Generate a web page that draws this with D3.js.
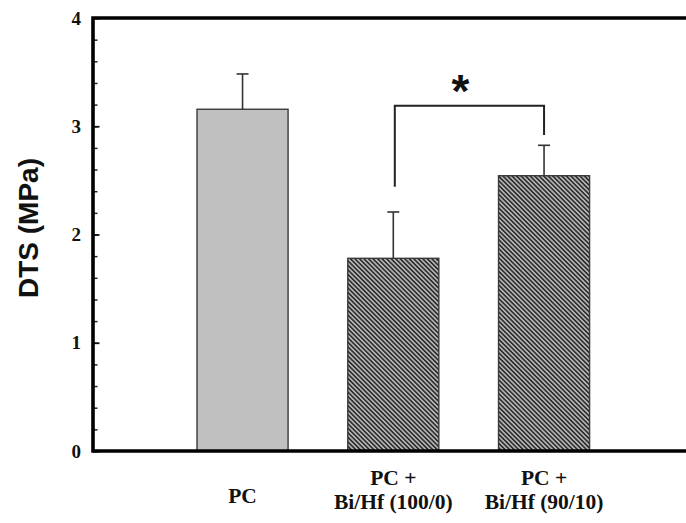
<!DOCTYPE html>
<html>
<head>
<meta charset="utf-8">
<script src="https://cdn.jsdelivr.net/npm/d3@7"></script>
<style>
  html, body { margin: 0; padding: 0; background: #fff; }
  svg { display: block; }
</style>
</head>
<body>
<svg id="chart" width="686" height="523"></svg>
<script>
// ---- data ----
const categories = ["PC", "PC + Bi/Hf (100/0)", "PC + Bi/Hf (90/10)"];
const categoryLines = [["PC"], ["PC +", "Bi/Hf (100/0)"], ["PC +", "Bi/Hf (90/10)"]];
const dtsMean = [3.157, 1.78, 2.543];
const dtsSD = [0.326, 0.428, 0.281];
const yTicks = [0, 1, 2, 3, 4];
const yMinorTicks = d3.range(0, 4.001, 0.2);
const yTitle = "DTS (MPa)";
const bracketPair = [1, 2];
const bracketLevels = [2.44, 3.19, 2.92]; // left end, top, right end
const sigLabel = "*";

// ---- layout ----
const svg = d3.select("#chart");
const plotLeft = 93, plotRight = 686, plotTop = 18, plotBottom = 451;

const x = d3.scaleBand().domain(categories).range([93, 693.6])
  .paddingInner(0.396).paddingOuter(0.69);
const y = d3.scaleLinear().domain([0, 4]).range([plotBottom, plotTop]);

// hatch pattern
const defs = svg.append("defs");
const pat = defs.append("pattern").attr("id", "hatch")
  .attr("patternUnits", "userSpaceOnUse")
  .attr("width", 3.2).attr("height", 3.2)
  .attr("patternTransform", "rotate(-45)");
pat.append("rect").attr("width", 3.2).attr("height", 3.2).attr("fill", "#b4b4b4");
pat.append("rect").attr("width", 1.6).attr("height", 3.2).attr("fill", "#2e2e2e");

const fills = ["#c0c0c0", "url(#hatch)", "url(#hatch)"];

// bars
svg.append("g").selectAll("rect").data(categories).join("rect")
  .attr("x", d => x(d))
  .attr("y", (d, i) => y(dtsMean[i]))
  .attr("width", x.bandwidth())
  .attr("height", (d, i) => y(0) - y(dtsMean[i]))
  .attr("fill", (d, i) => fills[i])
  .attr("stroke", "#3a3a3a")
  .attr("stroke-width", 1.4);

// error bars (upper only)
const eg = svg.append("g").attr("stroke", "#333").attr("stroke-width", 1.6);
categories.forEach((c, i) => {
  const cx = x(c) + x.bandwidth() / 2;
  eg.append("line").attr("x1", cx).attr("x2", cx)
    .attr("y1", y(dtsMean[i])).attr("y2", y(dtsMean[i] + dtsSD[i]));
  eg.append("line").attr("x1", cx - 6).attr("x2", cx + 6)
    .attr("y1", y(dtsMean[i] + dtsSD[i])).attr("y2", y(dtsMean[i] + dtsSD[i]));
});

// significance bracket
const bx1 = x(categories[bracketPair[0]]) + x.bandwidth() / 2 + 1.5;
const bx2 = x(categories[bracketPair[1]]) + x.bandwidth() / 2;
svg.append("path")
  .attr("d", `M${bx1},${y(bracketLevels[0])}V${y(bracketLevels[1])}H${bx2}V${y(bracketLevels[2])}`)
  .attr("fill", "none").attr("stroke", "#222").attr("stroke-width", 2);
svg.append("text")
  .attr("x", (bx1 + bx2) / 2 - 9)
  .attr("y", y(bracketLevels[1]) + 1)
  .attr("text-anchor", "middle")
  .attr("font-family", "Liberation Sans, Arial, sans-serif")
  .attr("font-weight", "bold")
  .attr("font-size", 46)
  .attr("fill", "#111")
  .text(sigLabel);

// y axis with inward ticks
const yAxisMinor = d3.axisRight(y).tickValues(yMinorTicks).tickSize(4.5).tickFormat("");
const gMinor = svg.append("g").attr("transform", `translate(${plotLeft},0)`).call(yAxisMinor);
gMinor.select(".domain").remove();
gMinor.selectAll("line").attr("stroke", "#222").attr("stroke-width", 1.5);

const yAxisMajor = d3.axisRight(y).tickValues(yTicks).tickSize(6.5).tickFormat("");
const gMajor = svg.append("g").attr("transform", `translate(${plotLeft},0)`).call(yAxisMajor);
gMajor.select(".domain").remove();
gMajor.selectAll("line").attr("stroke", "#111").attr("stroke-width", 1.8);

// y tick labels
svg.append("g").selectAll("text").data(yTicks).join("text")
  .attr("x", 81)
  .attr("y", d => y(d))
  .attr("dy", "0.35em")
  .attr("text-anchor", "end")
  .attr("font-family", "Liberation Serif, Times New Roman, serif")
  .attr("font-weight", "bold")
  .attr("font-size", 19)
  .attr("fill", "#111")
  .text(d => d);

// frame lines (left, top, bottom)
const frame = svg.append("g").attr("stroke", "#000").attr("stroke-width", 3.6).attr("fill", "none");
frame.append("path").attr("d", `M${plotRight},${y(4)}H${plotLeft}V${y(0)}H${plotRight}`)
  .attr("stroke-linejoin", "miter").attr("stroke-linecap", "square");

// x category labels (one text element per category, lines as tspans)
const xl = svg.append("g")
  .attr("font-family", "Liberation Serif, Times New Roman, serif")
  .attr("font-weight", "bold")
  .attr("font-size", 21.5)
  .attr("fill", "#111")
  .attr("text-anchor", "middle");
categories.forEach((c, i) => {
  const cx = x(c) + x.bandwidth() / 2;
  const lines = categoryLines[i];
  const t = xl.append("text").attr("x", cx).attr("y", lines.length === 1 ? 503 : 484.5);
  lines.forEach((ln, j) => {
    t.append("tspan").attr("x", cx).attr("dy", j === 0 ? 0 : 24).text(ln);
  });
});

// y title
svg.append("text")
  .attr("transform", `translate(28,228) rotate(-90)`)
  .attr("text-anchor", "middle")
  .attr("dy", "0.35em")
  .attr("font-family", "Liberation Sans, Arial, sans-serif")
  .attr("font-weight", "bold")
  .attr("font-size", 28)
  .attr("fill", "#111")
  .text(yTitle);
</script>
</body>
</html>
